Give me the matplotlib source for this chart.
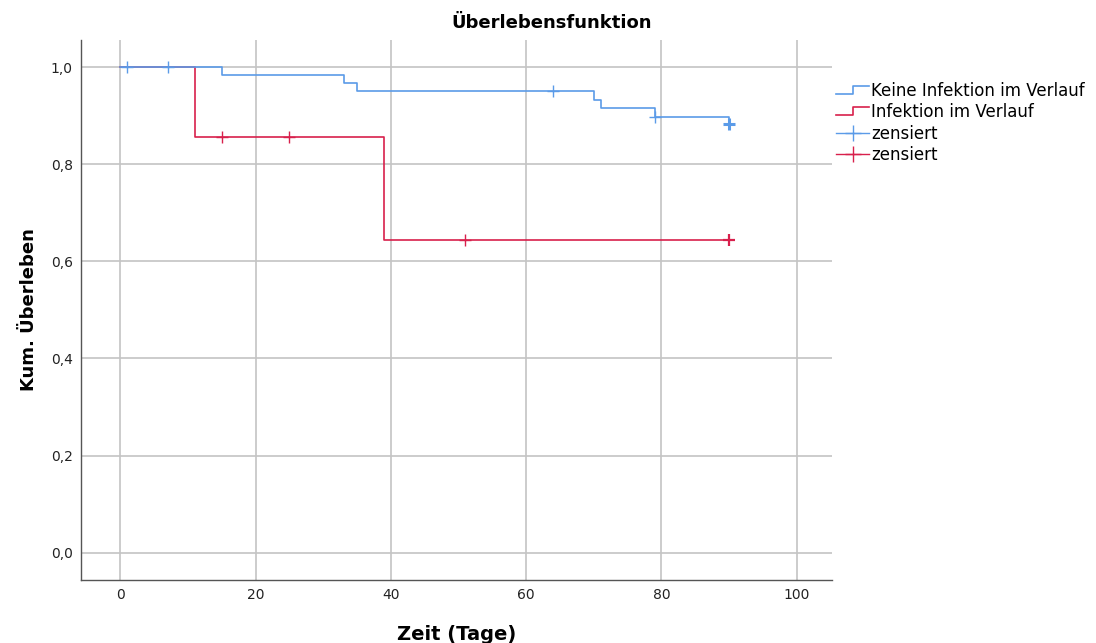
import numpy as np
import matplotlib
matplotlib.use('Agg')
from matplotlib import pyplot as plt
from matplotlib.lines import Line2D
from matplotlib.legend_handler import HandlerBase

# Kaplan-Meier steps
blue_t = [0, 15, 33, 35, 70, 71, 79, 90]
blue_s = [1.0, 0.983, 0.967, 0.950, 0.933, 0.916, 0.898, 0.882]
red_t = [0, 11, 39, 90]
red_s = [1.0, 0.857, 0.643, 0.643]

# censored cases (time, how many)
blue_cens_t = [1, 7, 64, 79, 90]
blue_cens_n = [1, 1, 1, 1, 3]
red_cens_t = [15, 25, 51, 90]
red_cens_n = [1, 1, 1, 2]

labels = ['Keine Infektion im Verlauf', 'Infektion im Verlauf', 'zensiert', 'zensiert']

BLUE = '#5b9be8'
RED = '#d8204c'


def surv_at(t, times, surv):
    i = np.searchsorted(times, t, side='right') - 1
    return surv[i]


class StepHandler(HandlerBase):
    def create_artists(self, legend, orig_handle, xdescent, ydescent,
                       width, height, fontsize, trans):
        x0, x1 = -xdescent, -xdescent + width
        xm = x0 + width * 0.5
        ylo, yhi = -ydescent + height * 0.15, -ydescent + height * 0.85
        ln = Line2D([x0, xm, xm, x1], [ylo, ylo, yhi, yhi],
                    color=orig_handle.get_color(), lw=1.2, transform=trans)
        return [ln]


fig = plt.figure(figsize=(10.96, 6.43), dpi=100)
ax = fig.add_axes([0.074, 0.098, 0.685, 0.84])

ax.step(red_t, red_s, where='post', color=RED, lw=1.2, zorder=3)
ax.step(blue_t, blue_s, where='post', color=BLUE, lw=1.2, zorder=4)

for times, counts, t_ev, s_ev, col in [(red_cens_t, red_cens_n, red_t, red_s, RED),
                                       (blue_cens_t, blue_cens_n, blue_t, blue_s, BLUE)]:
    for t, n in zip(times, counts):
        y = surv_at(t, t_ev, s_ev)
        ax.plot([t], [y], marker='+', ms=9, mew=1.0 + 0.6 * (n - 1),
                color=col, zorder=5, linestyle='none')

ax.set_xlim(-5.8, 105.2)
ax.set_ylim(-0.056, 1.056)
ax.set_xticks([0, 20, 40, 60, 80, 100])
ax.set_yticks([0.0, 0.2, 0.4, 0.6, 0.8, 1.0])
ax.set_yticklabels(['0,0', '0,2', '0,4', '0,6', '0,8', '1,0'])
ax.grid(True, color='#c4c4c4', lw=1.2, zorder=0)
ax.set_axisbelow(True)
for s in ['top', 'right']:
    ax.spines[s].set_visible(False)
for s in ['left', 'bottom']:
    ax.spines[s].set_color('#555555')
    ax.spines[s].set_linewidth(1.0)
ax.tick_params(length=0, labelsize=10, pad=6, colors='#222222')

ax.set_xlabel('Zeit (Tage)', fontsize=14, fontweight='bold', labelpad=16)
ax.set_ylabel('Kum. Überleben', fontsize=13, fontweight='bold', labelpad=9)
fig.suptitle('Überlebensfunktion', fontsize=13, fontweight='bold', x=0.503, y=0.978)

h1 = Line2D([], [], color=BLUE)
h2 = Line2D([], [], color=RED)
h3 = Line2D([], [], color=BLUE, marker='+', ms=11, mew=1.0, lw=1.0)
h4 = Line2D([], [], color=RED, marker='+', ms=11, mew=1.0, lw=1.0)
leg = fig.legend([h1, h2, h3, h4], labels, loc='upper left',
                 bbox_to_anchor=(0.749, 0.896), frameon=False, fontsize=12,
                 handlelength=2.0, handletextpad=0.1, labelspacing=0.2,
                 handler_map={h1: StepHandler(), h2: StepHandler()})

fig.savefig('out.png', dpi=100)
